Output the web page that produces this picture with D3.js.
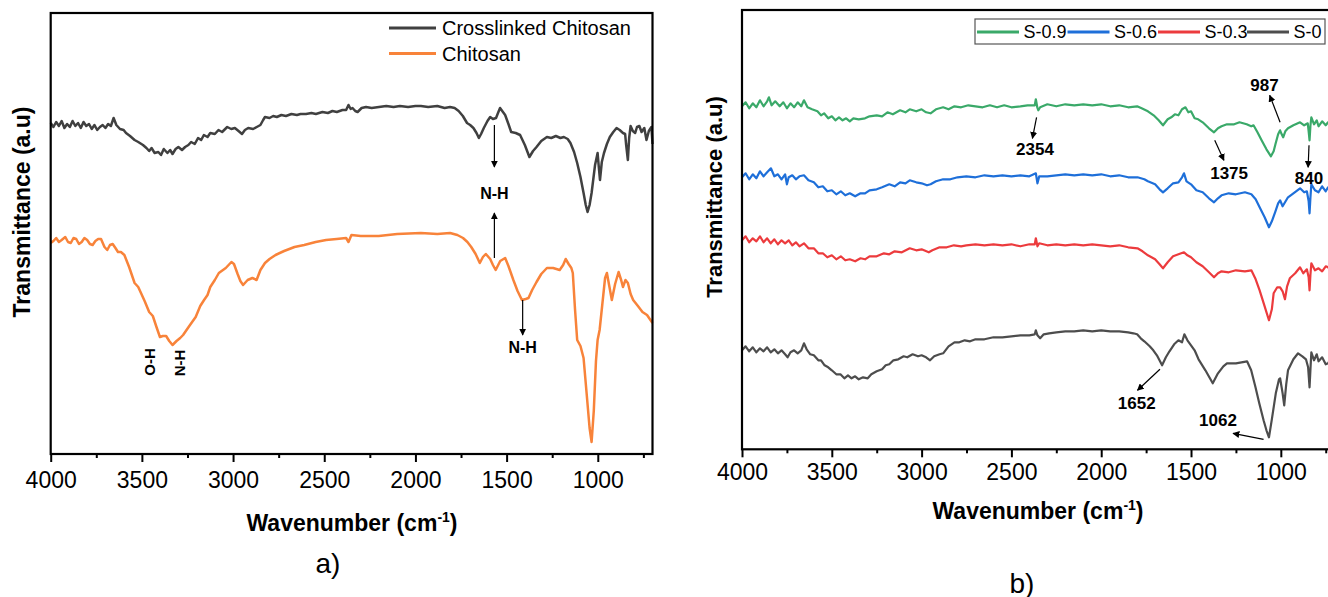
<!DOCTYPE html>
<html>
<head>
<meta charset="utf-8">
<script src="https://cdn.jsdelivr.net/npm/d3@7"></script>
<style>
  body { margin: 0; background: #fff; }
  svg text { font-family: "Liberation Sans", Arial, sans-serif; }
</style>
</head>
<body>
<div id="chart"></div>
<script>
// ---- data (wavenumber cm-1, transmittance a.u.) ----
var xTicks = [4000, 3500, 3000, 2500, 2000, 1500, 1000];
var xMinor = [3750, 3250, 2750, 2250, 1750, 1250, 750];

var crosslinked = [[4000,33.1],[3985,32.7],[3970,33.2],[3955,32.8],[3940,33.3],[3925,32.6],[3910,33.0],[3895,32.7],[3880,33.3],[3865,32.8],[3850,33.1],[3835,32.6],[3820,33.2],[3805,32.8],[3790,33.0],[3775,32.5],[3760,32.9],[3745,32.4],[3730,32.7],[3715,32.9],[3700,32.6],[3685,33.0],[3670,32.8],[3655,33.6],[3640,32.9],[3620,32.5],[3600,32.4],[3587,32.1],[3565,31.8],[3540,31.4],[3520,31.2],[3494,30.9],[3475,30.6],[3460,30.3],[3447,30.6],[3430,30.1],[3410,30.2],[3395,29.9],[3380,30.5],[3360,30.1],[3345,30.4],[3332,30.0],[3315,30.5],[3300,30.7],[3280,30.4],[3263,30.7],[3245,30.9],[3230,31.2],[3210,31.0],[3192,31.6],[3175,31.4],[3160,31.9],[3140,31.7],[3125,32.1],[3100,32.0],[3080,32.4],[3060,32.2],[3032,32.7],[3010,32.5],[2990,32.6],[2970,32.3],[2951,32.0],[2935,32.4],[2917,32.6],[2890,32.5],[2870,32.7],[2850,32.9],[2835,33.4],[2825,33.7],[2800,33.6],[2780,33.8],[2760,33.7],[2735,33.9],[2710,33.8],[2680,34.0],[2650,33.9],[2630,34.0],[2600,34.0],[2570,34.1],[2546,34.0],[2510,34.2],[2480,34.1],[2455,34.3],[2431,34.2],[2400,34.4],[2380,34.4],[2367,34.9],[2355,34.5],[2345,34.6],[2330,34.3],[2317,34.2],[2295,34.6],[2271,34.7],[2240,34.6],[2200,34.7],[2160,34.8],[2120,34.7],[2085,34.8],[2040,34.7],[2000,34.8],[1970,34.8],[1930,34.7],[1880,34.8],[1840,34.6],[1810,34.7],[1785,34.6],[1763,34.3],[1740,33.8],[1717,33.1],[1700,32.9],[1682,32.6],[1665,32.1],[1652,31.6],[1640,32.0],[1625,32.6],[1605,33.3],[1590,33.7],[1575,33.5],[1558,33.6],[1545,34.2],[1536,34.6],[1520,34.2],[1508,33.9],[1490,33.0],[1475,32.2],[1450,32.1],[1426,31.9],[1400,30.9],[1375,29.7],[1355,30.3],[1336,30.7],[1310,31.3],[1279,31.7],[1255,31.6],[1230,31.8],[1205,31.6],[1186,31.7],[1165,31.5],[1150,31.1],[1130,30.2],[1113,29.1],[1095,27.7],[1078,26.1],[1066,24.9],[1056,24.2],[1045,24.9],[1034,26.1],[1015,28.9],[1001,30.1],[994,28.6],[988,27.4],[978,29.2],[966,30.1],[950,31.0],[934,31.7],[915,32.2],[897,32.6],[880,32.4],[862,32.1],[850,32.0],[845,31.0],[835,29.4],[828,31.6],[820,32.8],[808,32.3],[795,32.1],[785,32.7],[772,32.8],[760,32.2],[745,32.6],[733,31.4],[720,32.3],[706,32.7],[700,31.0]];

var chitosan = [[4000,21.1],[3985,21.3],[3970,21.6],[3955,21.2],[3940,21.4],[3920,21.7],[3905,21.2],[3890,21.1],[3875,21.6],[3860,21.5],[3845,21.0],[3830,21.2],[3815,21.6],[3800,21.4],[3785,21.0],[3770,20.9],[3755,21.3],[3740,21.5],[3724,21.5],[3705,20.7],[3690,20.4],[3675,20.9],[3660,21.0],[3645,20.6],[3631,20.2],[3615,20.2],[3596,19.9],[3570,18.7],[3540,17.1],[3520,16.7],[3505,16.1],[3485,15.3],[3460,14.2],[3440,13.8],[3420,12.7],[3401,11.7],[3385,11.8],[3367,11.8],[3350,11.3],[3332,10.9],[3310,11.3],[3290,11.6],[3274,11.9],[3240,12.8],[3205,13.7],[3180,14.8],[3159,15.4],[3140,15.9],[3125,16.7],[3100,17.4],[3078,18.1],[3040,18.6],[3009,19.2],[2995,19.0],[2975,18.0],[2960,17.3],[2945,16.9],[2920,17.4],[2894,17.6],[2871,17.4],[2850,18.4],[2825,19.1],[2800,19.5],[2767,19.9],[2720,20.3],[2663,20.7],[2610,20.9],[2547,21.2],[2490,21.4],[2432,21.5],[2380,21.6],[2367,21.2],[2351,21.9],[2300,21.8],[2201,21.8],[2100,22.0],[1970,22.1],[1880,22.0],[1810,22.1],[1770,21.9],[1739,21.6],[1715,21.2],[1694,20.7],[1670,20.0],[1647,19.1],[1630,19.7],[1614,20.0],[1590,19.5],[1575,18.9],[1560,18.4],[1535,19.3],[1508,19.6],[1490,18.8],[1463,17.4],[1440,16.3],[1416,15.4],[1395,15.5],[1380,15.6],[1360,16.4],[1336,17.2],[1310,18.0],[1279,18.6],[1245,18.6],[1209,18.4],[1190,18.9],[1176,19.5],[1160,19.0],[1145,18.6],[1137,18.1],[1125,14.5],[1113,11.4],[1095,10.8],[1078,9.6],[1060,5.8],[1045,2.6],[1034,1.2],[1022,4.3],[1010,9.3],[1001,11.4],[990,12.4],[975,15.0],[960,17.6],[950,18.1],[937,16.8],[923,15.4],[905,17.0],[886,18.2],[872,17.4],[862,16.7],[848,17.4],[835,17.1],[820,16.0],[806,15.4],[780,14.8],[755,14.2],[730,13.9],[715,13.5],[700,13.1]];

var s09 = [[4000,34.3],[3980,34.7],[3960,34.1],[3940,34.6],[3920,34.2],[3900,34.9],[3880,34.3],[3860,34.8],[3850,35.2],[3835,34.4],[3815,34.8],[3790,34.3],[3770,34.7],[3750,34.1],[3730,34.6],[3710,34.2],[3690,34.7],[3670,34.3],[3655,34.9],[3635,34.2],[3610,34.0],[3580,33.8],[3560,33.4],[3543,33.6],[3520,33.1],[3500,33.3],[3480,32.9],[3460,33.2],[3440,32.9],[3420,33.1],[3400,32.8],[3380,33.1],[3350,33.0],[3315,33.1],[3290,33.3],[3250,33.4],[3220,33.3],[3190,33.7],[3160,33.5],[3120,33.9],[3090,33.7],[3066,34.0],[3030,33.8],[3000,34.0],[2975,33.7],[2950,33.6],[2920,34.0],[2880,34.2],[2850,34.0],[2817,34.3],[2780,34.2],[2740,34.4],[2700,34.3],[2660,34.2],[2620,34.4],[2580,34.2],[2540,34.4],[2500,34.2],[2450,34.3],[2410,34.4],[2370,34.4],[2364,35.0],[2356,34.2],[2350,33.9],[2340,34.2],[2300,34.5],[2250,34.3],[2200,34.5],[2150,34.4],[2100,34.5],[2050,34.4],[2000,34.5],[1950,34.3],[1900,34.4],[1850,34.2],[1800,34.3],[1775,34.1],[1740,33.8],[1708,33.4],[1680,32.9],[1656,32.4],[1630,33.0],[1610,33.2],[1590,33.5],[1570,33.4],[1550,34.0],[1531,34.2],[1515,33.7],[1500,33.8],[1480,33.1],[1460,33.0],[1435,32.7],[1400,32.1],[1372,31.7],[1350,32.1],[1330,32.3],[1300,32.5],[1260,32.5],[1230,32.7],[1190,32.5],[1165,32.3],[1152,32.4],[1130,31.7],[1107,30.9],[1080,30.0],[1055,29.3],[1040,29.8],[1030,30.5],[1015,31.5],[1004,31.9],[995,31.5],[987,31.2],[975,31.8],[960,32.1],[930,32.4],[893,32.7],[870,32.4],[850,32.6],[845,31.8],[840,30.9],[835,32.4],[830,33.2],[815,32.5],[800,32.9],[790,32.3],[770,32.8],[750,32.4],[737,32.7],[720,32.3],[700,32.6]];

var s06 = [[4000,27.2],[3980,27.6],[3960,27.0],[3940,27.5],[3920,27.1],[3900,27.8],[3880,27.3],[3860,27.7],[3839,28.1],[3820,27.3],[3800,27.5],[3780,27.0],[3760,27.5],[3750,26.5],[3740,27.2],[3720,27.4],[3700,27.0],[3680,27.3],[3655,27.4],[3630,26.9],[3600,26.7],[3575,26.2],[3550,26.3],[3525,25.8],[3500,25.9],[3475,25.5],[3450,25.8],[3425,25.4],[3400,25.6],[3370,25.3],[3340,25.6],[3315,25.6],[3290,25.9],[3250,26.0],[3220,26.2],[3180,26.5],[3150,26.3],[3120,26.7],[3090,26.6],[3066,26.9],[3030,26.7],[3000,26.6],[2970,26.4],[2950,26.5],[2920,26.8],[2880,27.0],[2840,27.0],[2800,27.2],[2751,27.3],[2700,27.2],[2650,27.4],[2600,27.3],[2550,27.4],[2500,27.3],[2450,27.4],[2400,27.3],[2364,27.6],[2355,26.6],[2345,27.3],[2300,27.3],[2250,27.4],[2200,27.5],[2150,27.4],[2100,27.5],[2050,27.4],[2000,27.5],[1950,27.3],[1900,27.4],[1850,27.2],[1798,27.2],[1760,27.0],[1740,26.8],[1700,26.5],[1675,26.0],[1656,25.7],[1630,26.1],[1600,26.6],[1570,26.7],[1550,27.2],[1539,27.6],[1525,26.8],[1500,26.5],[1470,25.9],[1435,25.7],[1400,25.1],[1372,24.7],[1350,25.1],[1330,25.4],[1290,25.6],[1250,25.5],[1200,25.7],[1164,25.5],[1140,25.0],[1118,24.2],[1090,23.2],[1066,22.2],[1050,22.8],[1030,23.8],[1015,24.6],[1004,24.9],[990,24.3],[980,24.6],[960,25.2],[930,25.6],[893,26.1],[870,25.7],[855,25.8],[845,24.8],[840,23.6],[835,25.2],[830,26.5],[810,25.9],[790,25.7],[770,26.3],[750,25.8],[737,26.2],[720,25.9],[700,26.2]];

var s03 = [[4000,20.9],[3980,21.3],[3960,20.7],[3940,21.1],[3920,20.8],[3900,21.3],[3880,20.7],[3860,21.1],[3840,20.6],[3820,21.0],[3800,20.5],[3780,20.9],[3760,20.6],[3740,20.9],[3720,20.4],[3700,20.7],[3680,20.3],[3655,20.6],[3630,20.1],[3600,20.1],[3575,19.6],[3550,19.6],[3525,19.2],[3500,19.4],[3475,19.0],[3450,19.3],[3425,18.9],[3400,19.0],[3370,18.8],[3340,19.1],[3315,19.0],[3290,19.3],[3250,19.3],[3210,19.6],[3180,19.5],[3150,19.8],[3110,19.7],[3066,20.1],[3030,19.9],[3000,20.0],[2960,19.7],[2940,19.9],[2900,20.2],[2860,20.2],[2820,20.4],[2780,20.3],[2751,20.4],[2700,20.5],[2650,20.4],[2600,20.5],[2550,20.4],[2500,20.5],[2450,20.3],[2400,20.5],[2370,20.5],[2364,21.1],[2355,20.3],[2345,20.6],[2300,20.4],[2250,20.5],[2200,20.4],[2150,20.5],[2100,20.4],[2050,20.5],[2000,20.4],[1950,20.3],[1900,20.4],[1850,20.2],[1798,20.1],[1770,19.8],[1740,19.4],[1700,19.0],[1675,18.5],[1656,18.1],[1630,18.7],[1600,19.3],[1570,19.5],[1539,19.7],[1520,19.4],[1500,19.2],[1470,18.7],[1435,18.3],[1400,17.7],[1372,17.2],[1350,17.6],[1330,17.8],[1290,17.7],[1250,17.9],[1200,17.8],[1164,17.9],[1140,17.0],[1118,15.9],[1090,14.3],[1066,12.9],[1050,14.0],[1040,15.6],[1020,16.2],[1004,16.2],[990,15.8],[977,15.0],[965,16.3],[950,17.1],[920,17.6],[893,18.2],[875,17.6],[855,18.0],[845,17.2],[840,15.9],[835,17.5],[830,18.6],[810,17.9],[790,18.1],[770,17.8],[750,18.3],[737,18.2],[720,17.8],[700,18.1]];

var s0 = [[4000,9.9],[3980,10.3],[3960,9.8],[3940,10.2],[3920,9.7],[3900,10.1],[3880,9.8],[3860,10.2],[3840,9.7],[3820,10.0],[3800,9.6],[3780,9.9],[3760,9.5],[3746,9.2],[3730,9.7],[3710,9.9],[3690,9.6],[3670,9.9],[3655,10.6],[3640,10.0],[3620,9.5],[3600,9.4],[3575,8.9],[3560,8.9],[3540,8.4],[3520,8.2],[3500,7.9],[3475,7.5],[3452,7.5],[3430,7.1],[3410,7.4],[3390,7.1],[3370,7.3],[3350,7.0],[3326,7.2],[3300,7.1],[3280,7.5],[3250,7.8],[3220,8.0],[3200,8.4],[3180,8.5],[3157,8.9],[3130,9.0],[3100,9.3],[3080,9.2],[3050,9.5],[3020,9.3],[3000,9.4],[2975,9.2],[2953,8.9],[2930,9.3],[2900,9.5],[2880,9.6],[2850,10.3],[2817,10.7],[2790,10.7],[2760,10.9],[2730,10.8],[2700,11.0],[2650,11.0],[2600,11.2],[2550,11.2],[2500,11.3],[2450,11.4],[2400,11.4],[2370,11.5],[2364,11.9],[2355,11.4],[2340,11.1],[2320,11.5],[2290,11.6],[2250,11.7],[2200,11.8],[2150,11.8],[2100,11.9],[2050,11.8],[2000,11.9],[1950,11.8],[1900,11.8],[1850,11.7],[1821,11.6],[1800,11.5],[1780,11.1],[1760,10.8],[1730,10.3],[1710,9.9],[1690,9.4],[1661,8.4],[1640,9.2],[1620,9.8],[1594,10.5],[1570,10.9],[1550,10.7],[1537,11.5],[1520,10.9],[1500,10.4],[1480,9.9],[1458,9.0],[1420,7.9],[1379,6.6],[1350,7.6],[1320,8.3],[1300,8.6],[1250,8.6],[1188,8.8],[1165,7.9],[1141,6.2],[1120,4.6],[1096,2.9],[1080,1.9],[1066,1.2],[1050,3.0],[1028,5.6],[1010,7.0],[1004,7.1],[990,5.6],[981,4.4],[970,6.5],[960,7.9],[930,9.0],[904,9.6],[880,9.3],[860,9.0],[848,8.2],[840,6.2],[835,8.0],[830,9.7],[815,8.9],[800,9.5],[790,8.8],[770,9.2],[750,8.5],[737,8.6],[720,9.1],[700,8.8]];

var seriesA = [
  {name: "Crosslinked Chitosan", data: crosslinked, color: "#404040"},
  {name: "Chitosan", data: chitosan, color: "#f8833a"}
];
var seriesB = [
  {name: "S-0.9", data: s09, color: "#3aa969"},
  {name: "S-0.6", data: s06, color: "#1e6fd9"},
  {name: "S-0.3", data: s03, color: "#ec3b3d"},
  {name: "S-0", data: s0, color: "#4d4d4d"}
];

// arrows: [from wn, from val, to wn, to val]; labels: [text, wn, val]
var arrowsA = [[1567,32.9,1567,28.7],[1567,19.6,1567,24.1],[1412,15.4,1412,11.9]];
var labelsA = [["N-H",1567,26.1],["N-H",1412,10.7]];
var rotLabelsA = [["O-H",3459,9.2],["N-H",3291,9.1]];
var arrowsB = [[2360,33.2,2383,31.1],[1368,30.9,1317,28.9],[1004,32.7,1062,35.4],[843,30.4,848,28.2],[1673,8.0,1798,5.9],[1096,1.0,1266,1.6]];
var labelsB = [["2354",2369,30.0],["1375",1288,27.6],["987",1091,36.4],["840",843,27.1],["1652",1802,4.6],["1062",1350,2.9]];

var svg = d3.select("#chart").append("svg")
  .attr("width", 1328).attr("height", 597);

svg.append("defs").append("marker")
  .attr("id", "arr").attr("viewBox", "0 0 10 10")
  .attr("refX", 9).attr("refY", 5)
  .attr("markerWidth", 7).attr("markerHeight", 7)
  .attr("markerUnits", "userSpaceOnUse")
  .attr("orient", "auto")
  .append("path").attr("d", "M0,0L10,5L0,10z").attr("fill", "#000");

function panel(opt) {
  var x = d3.scaleLinear().domain([4000, 700]).range([opt.left, opt.right]);
  var y = d3.scaleLinear().domain([0, opt.ymax]).range([opt.bottom, opt.top]);
  var g = svg.append("g");

  var line = d3.line()
    .x(function(d) { return x(d[0]); })
    .y(function(d) { return y(d[1]); });

  g.selectAll(".spec").data(opt.series).enter()
    .append("path")
    .attr("class", "spec")
    .attr("d", function(d) { return line(d.data); })
    .attr("fill", "none")
    .attr("stroke", function(d) { return d.color; })
    .attr("stroke-width", opt.lw)
    .attr("stroke-linejoin", "round");

  // frame
  g.append("rect")
    .attr("x", opt.left).attr("y", opt.top)
    .attr("width", opt.right - opt.left).attr("height", opt.bottom - opt.top)
    .attr("fill", "none").attr("stroke", "#000").attr("stroke-width", 2.2);

  // x axis
  var ax = g.append("g").attr("transform", "translate(0," + opt.bottom + ")")
    .call(d3.axisBottom(x).tickValues(xTicks).tickSize(8).tickPadding(opt.pad).tickFormat(d3.format("d")));
  ax.select(".domain").remove();
  ax.selectAll("line").attr("stroke", "#000").attr("stroke-width", 2);
  ax.selectAll("text").attr("font-size", 23).attr("fill", "#000")
    .style("font-family", "'Liberation Sans', Arial, sans-serif");
  var mi = g.append("g").attr("transform", "translate(0," + opt.bottom + ")")
    .call(d3.axisBottom(x).tickValues(xMinor).tickSize(4).tickFormat(""));
  mi.select(".domain").remove();
  mi.selectAll("line").attr("stroke", "#000").attr("stroke-width", 2);

  // arrows and labels
  g.selectAll(".arrow").data(opt.arrows).enter().append("line")
    .attr("x1", function(d) { return x(d[0]); }).attr("y1", function(d) { return y(d[1]); })
    .attr("x2", function(d) { return x(d[2]); }).attr("y2", function(d) { return y(d[3]); })
    .attr("stroke", "#000").attr("stroke-width", 1.2)
    .attr("marker-end", "url(#arr)");
  g.selectAll(".lab").data(opt.labels).enter().append("text")
    .attr("x", function(d) { return x(d[1]); }).attr("y", function(d) { return y(d[2]); })
    .attr("text-anchor", "middle").attr("dominant-baseline", "central")
    .attr("font-size", opt.labSize).attr("font-weight", "bold")
    .text(function(d) { return d[0]; });
  g.selectAll(".rlab").data(opt.rotLabels || []).enter().append("text")
    .attr("transform", function(d) { return "translate(" + x(d[1]) + "," + y(d[2]) + ") rotate(-90)"; })
    .attr("text-anchor", "middle").attr("dominant-baseline", "central")
    .attr("font-size", 15).attr("font-weight", "bold")
    .text(function(d) { return d[0]; });

  // titles
  g.append("text")
    .attr("transform", "translate(" + opt.ytx + "," + opt.yty + ") rotate(-90)")
    .attr("text-anchor", "middle").attr("dominant-baseline", "central")
    .attr("font-size", opt.ytSize).attr("font-weight", "bold")
    .text("Transmittance (a.u)");
  var xt = g.append("text")
    .attr("x", opt.xtx).attr("y", opt.xty)
    .attr("text-anchor", "middle")
    .attr("font-size", 23).attr("font-weight", "bold");
  xt.append("tspan").text("Wavenumber (cm");
  xt.append("tspan").attr("font-size", 14).attr("dy", -9).text("-1");
  xt.append("tspan").attr("dy", 9).text(")");
  g.append("text")
    .attr("x", opt.tagx).attr("y", opt.tagy)
    .attr("text-anchor", "middle").attr("dominant-baseline", "central")
    .attr("font-size", 28).text(opt.tag);
  return g;
}

var gA = panel({left: 50.7, right: 652.5, top: 13, bottom: 454, ymax: 44.1, lw: 2.5, pad: 10,
  series: seriesA, arrows: arrowsA, labels: labelsA, rotLabels: rotLabelsA, labSize: 16,
  ytx: 22, yty: 212, ytSize: 23, xtx: 352, xty: 531, tagx: 328, tagy: 563, tag: "a)"});

var gB = panel({left: 742, right: 1334.7, top: 10, bottom: 449.3, ymax: 43.93, lw: 2.2, pad: 6,
  series: seriesB, arrows: arrowsB, labels: labelsB, labSize: 17,
  ytx: 714, yty: 197, ytSize: 22, xtx: 1038, xty: 519, tagx: 1022, tagy: 583, tag: "b)"});

// legend a
var legA = gA.selectAll(".leg").data(seriesA).enter().append("g")
  .attr("transform", function(d, i) { return "translate(389," + (28 + i * 25.5) + ")"; });
legA.append("line").attr("x1", 0).attr("x2", 47)
  .attr("stroke", function(d) { return d.color; }).attr("stroke-width", 3);
legA.append("text").attr("x", 53).attr("dominant-baseline", "central")
  .attr("font-size", 20).text(function(d) { return d.name; });

// legend b
gB.append("rect").attr("x", 975).attr("y", 19).attr("width", 350).attr("height", 25)
  .attr("fill", "#fff").attr("stroke", "#555").attr("stroke-width", 1.2);
var legX = [977, 1067.5, 1158, 1247];
var legB = gB.selectAll(".legb").data(seriesB).enter().append("g")
  .attr("transform", function(d, i) { return "translate(" + legX[i] + ",32)"; });
legB.append("line").attr("x1", 0).attr("x2", 42)
  .attr("stroke", function(d) { return d.color; }).attr("stroke-width", 3);
legB.append("text").attr("x", 46.5).attr("dominant-baseline", "central")
  .attr("font-size", 18).text(function(d) { return d.name; });
</script>
</body>
</html>
